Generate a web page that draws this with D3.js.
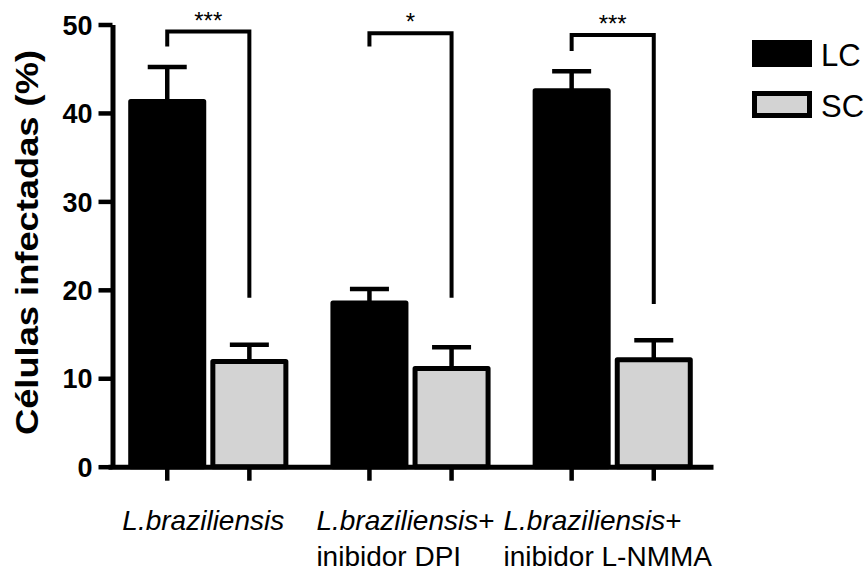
<!DOCTYPE html>
<html>
<head>
<meta charset="utf-8">
<script src="https://cdn.jsdelivr.net/npm/d3@7"></script>
<style>
  html, body { margin: 0; padding: 0; background: #fff; }
  svg { display: block; font-family: "Liberation Sans", Arial, sans-serif; }
</style>
</head>
<body>
<svg id="chart" width="868" height="578"></svg>
<script>
// Infected cells (%) per condition, with (LC) and without (SC) treatment
const groups = ["g1", "g2", "g3"];
const groupTitles = ["L.braziliensis", "L.braziliensis", "L.braziliensis"];
const groupSuffix = ["", "+", "+"];
const groupSecondLine = ["", "inibidor DPI", "inibidor L-NMMA"];
const series = ["LC", "SC"];
const lcMeans = [41.3, 18.5, 42.5];
const lcErrors = [3.9, 1.6, 2.2];
const scMeans = [11.9, 11.1, 12.1];
const scErrors = [1.9, 2.4, 2.2];
const yTicks = [0, 10, 20, 30, 40, 50];
const sigLabels = ["***", "*", "***"];
const bracketTop = [49.2, 49.0, 48.8];
const bracketLeftEnd = [47.5, 47.5, 47.0];
const bracketRightEnd = [19.1, 19.1, 18.4];

const colors = { LC: "#000000", SC: "#d3d3d3" };
const seriesData = { LC: { mean: lcMeans, err: lcErrors }, SC: { mean: scMeans, err: scErrors } };

const svg = d3.select("#chart");
const axisW = 5;

const y = d3.scaleLinear().domain([0, 50]).range([466.7, 24.5]);
const x0 = d3.scaleBand().domain(groups).range([108, 713]).paddingInner(0.208).paddingOuter(0.1);
const x1 = d3.scaleBand().domain(series).range([0, x0.bandwidth()]).paddingInner(0.05);
const cx = (gi, s) => x0(groups[gi]) + x1(s) + x1.bandwidth() / 2;

// bars
const bars = [];
groups.forEach((g, gi) => series.forEach(s => bars.push({ gi, s, v: seriesData[s].mean[gi], e: seriesData[s].err[gi] })));

svg.append("g").selectAll("rect").data(bars).join("rect")
  .attr("x", d => x0(groups[d.gi]) + x1(d.s) + axisW / 2)
  .attr("width", x1.bandwidth() - axisW)
  .attr("y", d => y(d.v))
  .attr("height", d => y(0) - y(d.v))
  .attr("fill", d => colors[d.s])
  .attr("stroke", "#000")
  .attr("stroke-width", axisW)
  .attr("stroke-linejoin", "round");

// error bars (upper only)
const eb = svg.append("g").attr("stroke", "#000").attr("stroke-width", 4.5);
eb.selectAll("line.v").data(bars).join("line").attr("class", "v")
  .attr("x1", d => cx(d.gi, d.s)).attr("x2", d => cx(d.gi, d.s))
  .attr("y1", d => y(d.v)).attr("y2", d => y(d.v + d.e));
eb.selectAll("line.cap").data(bars).join("line").attr("class", "cap")
  .attr("x1", d => cx(d.gi, d.s) - x1.bandwidth() / 4)
  .attr("x2", d => cx(d.gi, d.s) + x1.bandwidth() / 4)
  .attr("y1", d => y(d.v + d.e)).attr("y2", d => y(d.v + d.e));

// y axis
const yAxis = svg.append("g").attr("transform", "translate(112.5,0)")
  .call(d3.axisLeft(y).tickValues(yTicks).tickSize(14).tickSizeOuter(0).tickPadding(6));
yAxis.select(".domain").attr("stroke-width", axisW);
yAxis.selectAll(".tick line").attr("stroke-width", 4.5);
yAxis.selectAll(".tick text")
  .attr("font-family", "Liberation Sans, Arial, sans-serif")
  .attr("font-size", 27).attr("font-weight", "bold").attr("fill", "#000")
  .attr("dy", "0.36em");

// x axis baseline and ticks under each bar
const xAxis = svg.append("g").attr("transform", `translate(0,${y(0)})`)
  .call(d3.axisBottom(x0).tickSize(0).tickFormat(""));
xAxis.select(".domain").attr("stroke-width", axisW);
svg.append("g").selectAll("line").data(bars).join("line")
  .attr("x1", d => cx(d.gi, d.s)).attr("x2", d => cx(d.gi, d.s))
  .attr("y1", y(0)).attr("y2", y(0) + 14)
  .attr("stroke", "#000").attr("stroke-width", 4.5);

// category labels: left-aligned lines, block roughly centred under its group
const labels = svg.append("g").attr("font-size", 28).attr("fill", "#000");
groups.forEach((g, gi) => {
  const block = labels.append("g");
  const t1 = block.append("text").attr("y", 530);
  t1.append("tspan").attr("font-style", "italic").text(groupTitles[gi]);
  if (groupSuffix[gi]) t1.append("tspan").text(groupSuffix[gi]);
  let w = t1.node().getComputedTextLength();
  if (groupSecondLine[gi]) {
    const t2 = block.append("text").attr("y", 566).text(groupSecondLine[gi]);
    w = Math.max(w, t2.node().getComputedTextLength());
  }
  const gc = x0(g) + x0.bandwidth() / 2;
  block.attr("transform", `translate(${gc - w / 2 - 5},0)`);
});

// y axis title
svg.append("text")
  .attr("transform", "translate(38,242.5) rotate(-90)")
  .attr("text-anchor", "middle")
  .attr("font-size", 31).attr("font-weight", "bold")
  .attr("textLength", 385).attr("lengthAdjust", "spacingAndGlyphs")
  .text("Células infectadas (%)");

// significance brackets
const br = svg.append("g");
groups.forEach((g, gi) => {
  const xl = cx(gi, "LC"), xr = cx(gi, "SC");
  const path = d3.path();
  path.moveTo(xl, y(bracketLeftEnd[gi]));
  path.lineTo(xl, y(bracketTop[gi]));
  path.lineTo(xr, y(bracketTop[gi]));
  path.lineTo(xr, y(bracketRightEnd[gi]));
  br.append("path").attr("d", path.toString())
    .attr("fill", "none").attr("stroke", "#000").attr("stroke-width", 4);
  br.append("text")
    .attr("x", (xl + xr) / 2).attr("y", y(bracketTop[gi]) - 3)
    .attr("text-anchor", "middle").attr("font-size", 24)
    .text(sigLabels[gi]);
});

// legend
const legend = svg.append("g").attr("transform", "translate(752,40)");
series.forEach((s, i) => {
  const row = legend.append("g").attr("transform", `translate(0,${i * 51})`);
  row.append("rect")
    .attr("x", axisW / 2).attr("y", axisW / 2)
    .attr("width", 60 - axisW).attr("height", 27 - axisW)
    .attr("fill", colors[s]).attr("stroke", "#000").attr("stroke-width", axisW);
  row.append("text").attr("x", 69).attr("y", 25.5)
    .attr("font-size", 31).text(s);
});
</script>
</body>
</html>
